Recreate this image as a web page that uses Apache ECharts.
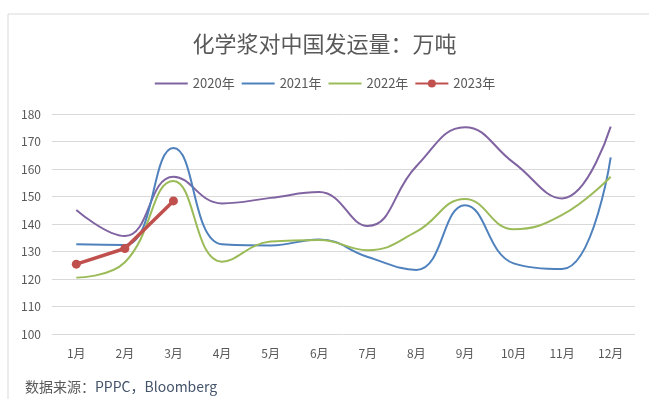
<!DOCTYPE html>
<html>
<head>
<meta charset="utf-8">
<script src="https://cdn.jsdelivr.net/npm/echarts@6/dist/echarts.min.js"></script>
<style>
  html, body { margin: 0; padding: 0; background: #fff; }
  #chart { width: 649px; height: 399px; }
</style>
</head>
<body>
<div id="chart"></div>
<script>
// Monthly chemical pulp shipments to China (10k tonnes)
const months = ['1月', '2月', '3月', '4月', '5月', '6月', '7月', '8月', '9月', '10月', '11月', '12月'];
const yTicks = [100, 110, 120, 130, 140, 150, 160, 170, 180];
const seriesNames = ['2020年', '2021年', '2022年', '2023年'];
const y2020 = [145.1, 135.6, 157.2, 147.5, 149.5, 151.6, 139.3, 161, 175.2, 162.3, 149.3, 175.4];
const y2021 = [132.6, 132.4, 167.6, 132.6, 132.2, 134.4, 128, 123.3, 146.8, 125.7, 123.6, 164.2];
const y2022 = [120.5, 126.1, 155.6, 126.3, 133.6, 134.2, 130.5, 137.2, 149.1, 138.1, 143.3, 157.2];
const y2023 = [125.4, 131.1, 148.4];

const colors = ['#8064a2', '#4f81bd', '#9bbb59', '#c0504d'];
const textColor = '#595959';
const font = '"Microsoft YaHei", "Noto Sans CJK SC", sans-serif';

const chart = echarts.init(document.getElementById('chart'));

function smoothLine(name, data, color) {
  return {
    name: name,
    type: 'line',
    data: data,
    smooth: 0.45,
    symbol: 'none',
    lineStyle: { color: color, width: 2 },
    itemStyle: { color: color }
  };
}

chart.setOption({
  animation: false,
  textStyle: { fontFamily: font },
  graphic: [
    {
      type: 'rect',
      shape: { x: 8, y: 14, width: 700, height: 500 },
      style: { fill: 'none', stroke: '#d9d9d9', lineWidth: 1 },
      silent: true
    },
    {
      type: 'text',
      left: 25,
      top: 380,
      style: {
        text: '{a|数据来源：}{b|PPPC，Bloomberg}',
        rich: {
          a: { fill: '#595959', fontSize: 14, fontFamily: font },
          b: { fill: '#44546a', fontSize: 14, fontFamily: font }
        }
      }
    }
  ],
  title: {
    text: '化学浆对中国发运量：万吨',
    left: 'center',
    top: 28,
    textStyle: { color: textColor, fontSize: 22, fontWeight: 'normal', fontFamily: font }
  },
  legend: {
    data: [
      { name: seriesNames[0], itemStyle: { opacity: 0 } },
      { name: seriesNames[1], itemStyle: { opacity: 0 } },
      { name: seriesNames[2], itemStyle: { opacity: 0 } },
      { name: seriesNames[3] }
    ],
    top: 72,
    left: 'center',
    itemWidth: 33,
    itemHeight: 10,
    itemGap: 6,
    textStyle: { color: textColor, fontSize: 13, fontFamily: font }
  },
  grid: { left: 52, right: 14, top: 114, bottom: 65, containLabel: false },
  xAxis: {
    type: 'category',
    data: months,
    boundaryGap: true,
    axisLine: { show: false },
    axisTick: { show: false },
    axisLabel: { color: textColor, fontSize: 12, margin: 13, fontFamily: font }
  },
  yAxis: {
    type: 'value',
    min: yTicks[0],
    max: yTicks[yTicks.length - 1],
    interval: 10,
    axisLine: { show: false },
    axisTick: { show: false },
    axisLabel: { color: textColor, fontSize: 12, margin: 11, fontFamily: font },
    splitLine: { lineStyle: { color: '#d9d9d9', width: 1 } }
  },
  series: [
    smoothLine(seriesNames[0], y2020, colors[0]),
    smoothLine(seriesNames[1], y2021, colors[1]),
    smoothLine(seriesNames[2], y2022, colors[2]),
    {
      name: seriesNames[3],
      type: 'line',
      data: y2023,
      smooth: false,
      symbol: 'circle',
      symbolSize: 9,
      lineStyle: { color: colors[3], width: 3.5 },
      itemStyle: { color: colors[3] }
    }
  ]
});
</script>
</body>
</html>
